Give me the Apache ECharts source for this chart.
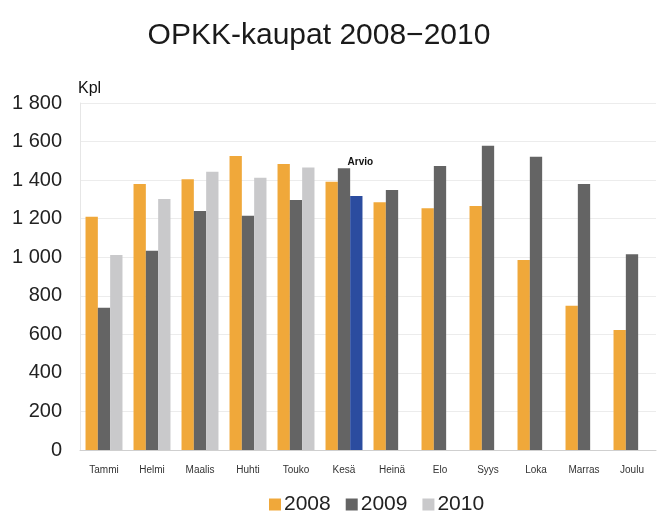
<!DOCTYPE html>
<html>
<head>
<meta charset="utf-8">
<script src="https://cdn.jsdelivr.net/npm/echarts@6/dist/echarts.min.js"></script>
<style>
  html, body { margin: 0; padding: 0; background: #fff; }
  #chart { width: 660px; height: 517px; }
</style>
</head>
<body>
<div id="chart"></div>
<script>
// kuukaudet
var months = ['Tammi', 'Helmi', 'Maalis', 'Huhti', 'Touko', 'Kesä', 'Heinä', 'Elo', 'Syys', 'Loka', 'Marras', 'Joulu'];
var years = ['2008', '2009', '2010'];
var sales2008 = [1210, 1380, 1404, 1525, 1483, 1392, 1285, 1254, 1266, 985, 748, 622];
var sales2009 = [738, 1034, 1240, 1215, 1297, 1461, 1349, 1473, 1578, 1521, 1380, 1015];
var sales2010 = [1011, 1302, 1444, 1412, 1466, 1317, null, null, null, null, null, null];
var estimateIndex = 5; // Kesä 2010 = arvio
var yTicks = [0, 200, 400, 600, 800, 1000, 1200, 1400, 1600, 1800];

var colors = ['#f0a83a', '#646464', '#c9c9cb'];

function fmt(v) {
  var s = String(v);
  if (v >= 1000) s = s.slice(0, s.length - 3) + ' ' + s.slice(-3);
  return s;
}

var data2010 = sales2010.map(function (v, i) {
  if (i === estimateIndex) {
    return {
      value: v,
      itemStyle: { color: '#2b4c9f' },
      label: {
        show: true, position: 'top', formatter: 'Arvio',
        offset: [4, -24], color: '#111', fontSize: 10, fontWeight: 'bold',
        fontFamily: 'Liberation Sans'
      }
    };
  }
  return v;
});

var myChart = echarts.init(document.getElementById('chart'));

var option = {
  backgroundColor: '#fff',
  animation: false,
  title: {
    text: 'OPKK-kaupat 2008−2010',
    left: 314, top: 16, textAlign: 'center',
    textStyle: { fontFamily: 'Liberation Sans', fontSize: 30, fontWeight: 'normal', color: '#1a1a1a' }
  },
  legend: {
    data: years,
    left: 264, bottom: -3,
    itemWidth: 12, itemHeight: 12, itemGap: 15,
    icon: 'rect',
    textStyle: { fontFamily: 'Liberation Sans', fontSize: 21, color: '#222', padding: [0, 0, 0, -2] }
  },
  grid: { left: 80, right: 4, top: 103, bottom: 67 },
  xAxis: {
    type: 'category',
    data: months,
    axisLine: { lineStyle: { color: '#cfcfcf' } },
    axisTick: { show: false },
    axisLabel: { fontFamily: 'Liberation Sans', fontSize: 10, color: '#333', margin: 15 }
  },
  yAxis: {
    type: 'value',
    min: yTicks[0], max: yTicks[yTicks.length - 1], interval: 200,
    name: 'Kpl',
    nameLocation: 'end',
    nameGap: 6,
    nameTextStyle: { fontFamily: 'Liberation Sans', fontSize: 16, color: '#111', align: 'left', padding: [0, 0, 0, -2] },
    axisLine: { show: true, lineStyle: { color: '#e6e6e6' } },
    axisTick: { show: false },
    axisLabel: {
      fontFamily: 'Liberation Sans', fontSize: 20, color: '#222', margin: 18,
      formatter: function (v) { return fmt(v); }
    },
    splitLine: { lineStyle: { color: '#ececec' } }
  },
  series: [
    { name: years[0], type: 'bar', data: sales2008, itemStyle: { color: colors[0] }, barGap: '0%', barCategoryGap: '23%' },
    { name: years[1], type: 'bar', data: sales2009, itemStyle: { color: colors[1] } },
    { name: years[2], type: 'bar', data: data2010, itemStyle: { color: colors[2] } }
  ]
};

myChart.setOption(option);
</script>
</body>
</html>
